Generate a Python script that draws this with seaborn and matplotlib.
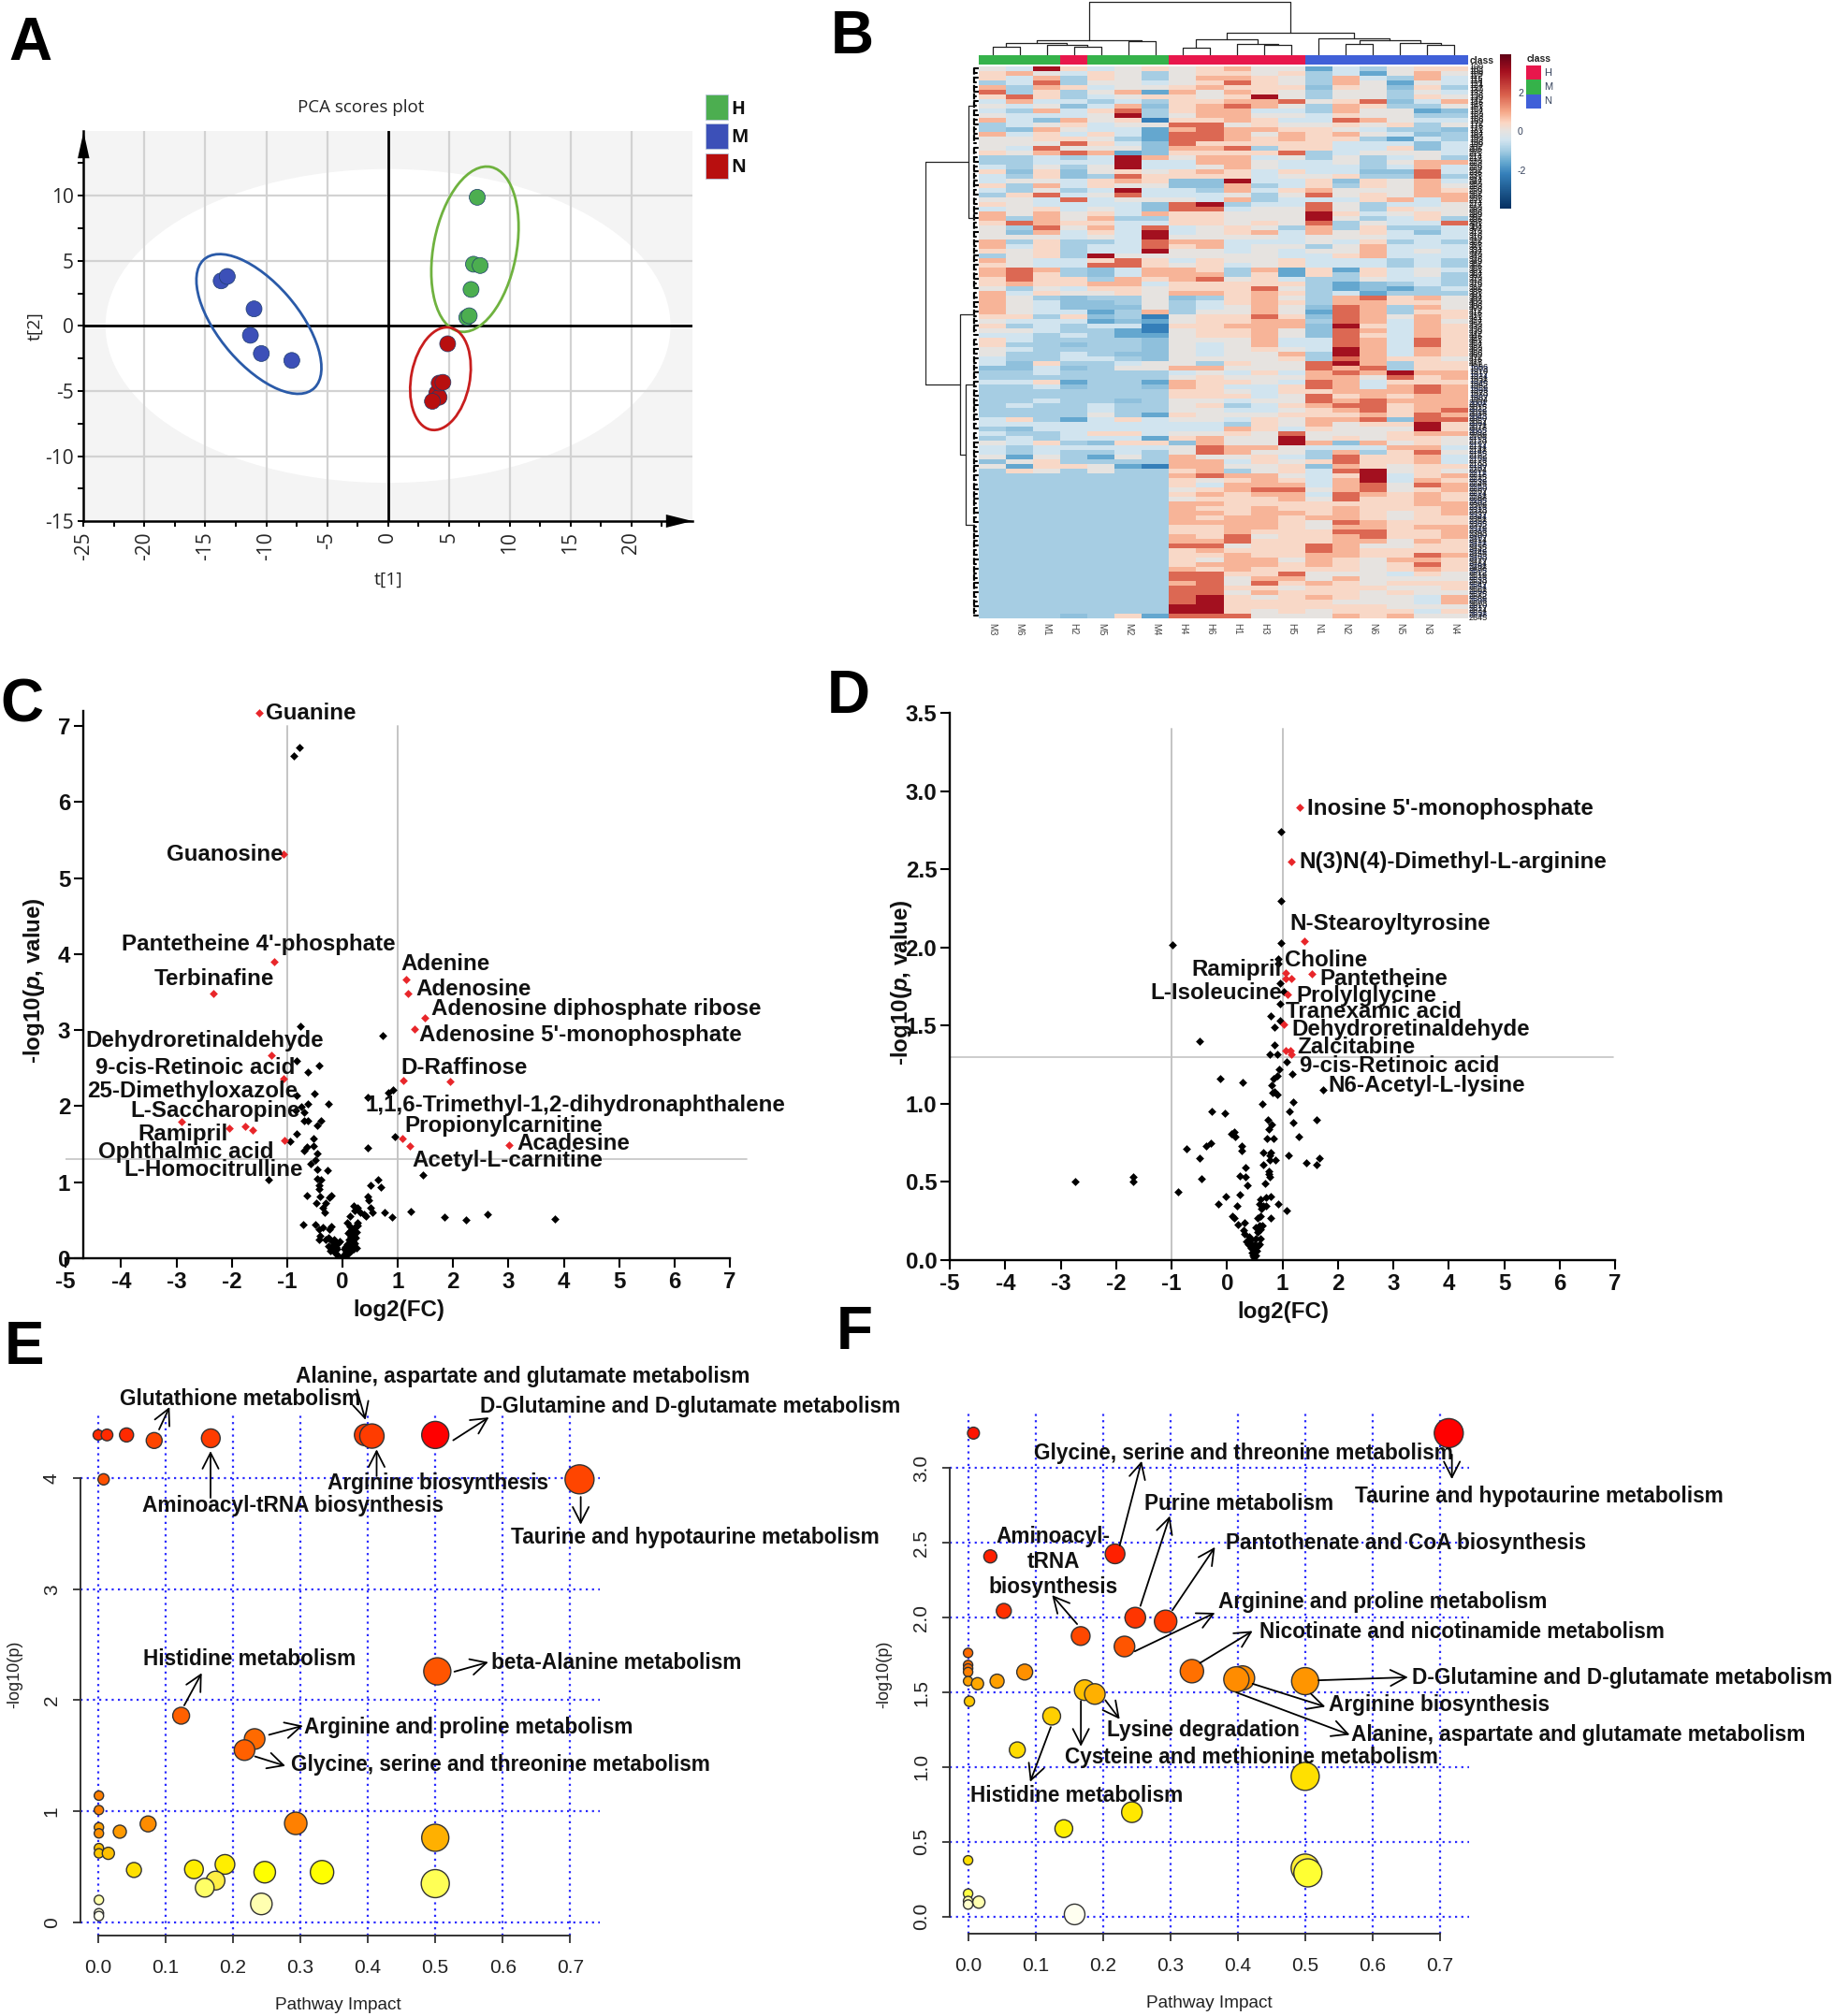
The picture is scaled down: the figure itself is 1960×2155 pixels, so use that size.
import numpy as np
import pandas as pd
import matplotlib
matplotlib.use("Agg")
import matplotlib.pyplot as plt
import seaborn as sns
from matplotlib.colors import LinearSegmentedColormap, ListedColormap
from matplotlib.patches import Ellipse, Rectangle

W, H = 1960, 2155

# ---- panel A data ----
pca_h_x = [7.33, 7.02, 7.57, 6.82, 6.47, 6.67]
pca_h_y = [9.88, 4.74, 4.64, 2.80, 0.65, 0.78]
pca_m_x = [-13.7, -13.2, -11.0, -11.3, -10.4, -7.9]
pca_m_y = [3.46, 3.80, 1.31, -0.72, -2.12, -2.65]
pca_n_x = [4.9, 4.0, 4.2, 3.65, 4.2, 4.51]
pca_n_y = [-1.37, -5.17, -5.48, -5.79, -4.39, -4.33]
pca_groups = ["H", "M", "N"]

# ---- panel B data ----
col_names = ["M3", "M6", "M1", "H2", "M5", "M2", "M4", "H4", "H6", "H1", "H3", "H5",
             "N1", "N2", "N6", "N5", "N3", "N4"]
col_class = [1, 1, 1, 0, 1, 1, 1, 0, 0, 0, 0, 0, 2, 2, 2, 2, 2, 2]
heat_levels = [-2.2, -1.6, -1.2, -1.0, -0.45, 0.0, 0.4, 0.85, 1.8, 3.1]
heat_rows = [
    "549645656755143566", "675465356656341575", "647365357765374374", "348355456865375154",
    "737645567666265263", "836357175765355354", "686345665695355365", "474434366778568247",
    "545247267875376335", "437468367744375512", "544459357755465533", "742756066764487544",
    "345645588565565635", "327544178776654332", "746464188757675423", "556653188767663143",
    "555864286666644424", "548555277836644624", "657871266668345554", "334349757745353453",
    "334449447754453577", "435359445754443474", "626256567646442284", "436238666645563383",
    "455467622944626574", "637465522734636575", "435349443746755576", "368458444535856577",
    "554845554734446747", "654444289344853445", "456454288455853655", "757564766555964565",
    "737573366555953463", "687664466565835448", "538574845653736334", "527464945674756424",
    "555454955554555444", "736334877444546343", "746344867455357444", "656344955454557454",
    "356395555554467444", "754468646556444343", "654488656456444343", "787324776371616454",
    "786324777361636453", "686637678564335443", "676677466666312343", "535466566685312134",
    "746556577676341333", "753233523675378675", "754223534676377665", "754222534575287375",
    "754413735575187366", "663623056686287576", "544412156677387475", "634344066777296476",
    "554331056675287476", "443431156675286476", "643333255574487486", "633233254574487486",
    "543333254565497476", "533432254557397476", "433443255556387665", "426334553655897366",
    "224235577555878366", "334333345464787977", "333333356555775867", "446133176654874666",
    "334233276446874787", "333333366546677787", "333333366645867677", "334332355455878777",
    "343343356346788677", "333343355445678678", "333353165556667687", "463146455465778288",
    "444444444365756696", "324444444764655596", "433466455658555677", "343444167559565665",
    "546326627559727565", "434444458775444774", "434334358755373685", "515315375564386674",
    "256333377465686674", "516651077556276566", "365353367356489565", "333333378775469467",
    "333333365676479476", "333333364777478587", "333333356788578567", "333333367677487676",
    "333333356667586676", "333333377666666677", "333333376676676667", "333333377677676567",
    "333333376776776566", "333333377776587666", "333333366776577677", "333333366766688667",
    "333333376856678667", "333333377866677576", "333333388566875566", "333333367666876666",
    "333333366766776687", "333333365775765776", "333333367776765686", "333333376766665676",
    "333333388668555465", "333333388577575555", "333333378586765666", "333333388665666556",
    "333333388576665655", "333333389656765547", "333333389666655547", "333333399666666555",
    "333333399656566646", "333236188855576755",
]
# column tree: (height, left, right), a leaf is the column index
col_tree = (57, (16, (13, (8.7, 0, 1), (11, 2, (8.7, 3, 4))), (14.3, 5, 6)),
            (24, (17, (7.8, 7, 8), (12, 9, (10.5, 10, 11))),
             (17.5, 12, (15.6, (11.3, 13, 14), (12.5, 15, (10.4, 16, 17))))))
row_blocks = [(0, 17), (17, 48), (48, 58), (58, 78), (78, 118)]
row_tree = (57.4, (11.5, 0, 1), (20.2, 2, (13.8, 3, 4)))
row_tips = [1.5, 3.5, 2.2, 4.5, 2.8, 1.2, 3.8, 2.0, 4.2, 3.0]

# ---- panel C data ----
c_red_x = [-1.51, -1.06, -1.23, -2.33, 1.15, 1.19, 1.48, 1.31, -1.29, -1.07, 1.10, 1.95,
           -2.90, -2.05, -1.76, -1.63, -1.05, 1.09, 1.22, 3.01]
c_red_y = [7.17, 5.32, 3.90, 3.48, 3.67, 3.48, 3.16, 3.01, 2.67, 2.36, 2.34, 2.32,
           1.80, 1.71, 1.74, 1.68, 1.55, 1.58, 1.48, 1.49]
c_blk_x = [-0.77, -0.88, -0.76, 0.72, -0.82, -0.43, -0.63, -0.82, -0.50, -0.26, -0.63, -0.75,
           -0.85, -0.70, -0.70, -0.62, -0.39, -0.45, -0.83, -0.53, -0.94, -0.52, -0.64, -0.70,
           -0.45, -0.49, -0.57, -0.45, -0.27, -1.34, -0.45, -0.38, -0.43, -0.43, -0.65, -0.21,
           -0.24, -0.41, -0.47, -0.30, -0.35, -0.32, -0.71, -0.49, -0.35, -0.43, -0.20, -0.24,
           -0.41, -0.43, -0.26, 0.83, 0.92, 0.45, 0.95, 0.45, 1.45, 0.65, 0.50, 0.70,
           0.45, 0.48, 0.20, 0.27, 0.50, 0.22, 0.54, 0.32, 0.76, 1.24, 0.89, 0.39,
           0.43, 1.85, 2.23, 2.62, 3.84, 0.13, 0.08, 0.27, 0.22, 0.13, 0.02, 0.03,
           0.05, 0.06, 0.08, 0.10, 0.03, 0.12, 0.15, 0.05, 0.08, 0.10, 0.14, 0.20,
           0.25, 0.22, 0.18, 0.12, 0.16, 0.20, 0.24, 0.10, 0.15, 0.20, 0.25, 0.22,
           0.27, 0.13, -0.10, -0.12, -0.15, -0.08, -0.05, -0.18, -0.15, -0.20, -0.25, -0.30,
           -0.22, -0.18, -0.13, -0.10, 0.00, 0.00, 0.04]
c_blk_y = [6.72, 6.61, 3.05, 2.93, 2.59, 2.54, 2.45, 2.14, 2.17, 2.03, 2.03, 1.99,
           1.94, 1.92, 1.81, 1.81, 1.81, 1.75, 1.63, 1.58, 1.54, 1.48, 1.46, 1.41,
           1.38, 1.29, 1.24, 1.17, 1.16, 1.03, 1.05, 1.03, 0.96, 0.91, 0.83, 0.83,
           0.80, 0.81, 0.72, 0.72, 0.67, 0.60, 0.44, 0.44, 0.40, 0.38, 0.42, 0.38,
           0.30, 0.25, 0.27, 2.18, 2.21, 2.11, 1.60, 1.45, 1.09, 1.03, 0.96, 0.94,
           0.81, 0.76, 0.69, 0.67, 0.66, 0.63, 0.60, 0.60, 0.60, 0.62, 0.54, 0.58,
           0.55, 0.54, 0.50, 0.58, 0.52, 0.55, 0.47, 0.47, 0.41, 0.36, 0.02, 0.05,
           0.03, 0.08, 0.06, 0.10, 0.12, 0.07, 0.10, 0.15, 0.18, 0.14, 0.16, 0.12,
           0.14, 0.20, 0.22, 0.25, 0.28, 0.30, 0.27, 0.33, 0.35, 0.36, 0.34, 0.41,
           0.43, 0.42, 0.12, 0.15, 0.18, 0.20, 0.22, 0.22, 0.25, 0.14, 0.16, 0.25,
           0.10, 0.13, 0.07, 0.05, 0.00, 0.03, 0.00]

# ---- panel D data ----
d_red_x = [1.31, 1.16, 1.39, 1.06, 1.53, 1.05, 1.16, 1.09, 1.03, 1.06, 1.14, 1.16]
d_red_y = [2.90, 2.55, 2.04, 1.84, 1.83, 1.80, 1.80, 1.70, 1.51, 1.34, 1.34, 1.32]
d_blk_x = [0.98, 0.97, 0.98, -0.98, 0.92, 0.92, 0.96, 1.03, 0.96, 0.78, 0.95, 0.86,
           -0.49, 0.86, 0.77, 0.90, 1.07, 0.94, 0.90, 1.18, -0.13, 0.28, 0.84, 0.81,
           0.86, 0.82, 0.90, 1.73, 1.20, 0.63, -0.27, -0.04, 1.13, 1.62, 0.74, 0.80,
           0.76, 1.19, 0.13, 0.08, 0.15, 1.29, 0.72, 0.83, -0.29, -0.37, 0.26, 0.27,
           -0.73, 0.65, 0.79, 0.77, 1.11, -0.50, 0.77, 0.88, 1.67, 1.43, 1.62, 0.65,
           0.33, 0.75, 0.76, 0.23, 0.34, -1.70, -1.69, -2.74, -0.47, 0.77, 0.68, 0.37,
           -0.88, 0.23, -0.03, 0.79, 0.70, 0.92, -0.16, 0.18, 1.08, 0.10, 0.13, 0.79,
           0.32, 0.20, 0.50, 0.49, 0.47, 0.52, 0.45, 0.50, 0.54, 0.43, 0.48, 0.55,
           0.38, 0.42, 0.50, 0.58, 0.35, 0.44, 0.52, 0.60, 0.32, 0.40, 0.30, 0.55,
           0.60, 0.52, 0.58, 0.63, 0.55, 0.60, 0.62, 0.58, 0.65, 0.60, 0.70]
d_blk_y = [2.74, 2.30, 2.03, 2.02, 1.93, 1.90, 1.77, 1.72, 1.64, 1.56, 1.53, 1.49,
           1.40, 1.38, 1.32, 1.32, 1.27, 1.22, 1.18, 1.19, 1.16, 1.14, 1.16, 1.12,
           1.08, 1.07, 1.06, 1.09, 1.01, 1.00, 0.95, 0.94, 0.95, 0.90, 0.90, 0.87,
           0.84, 0.88, 0.82, 0.81, 0.79, 0.79, 0.78, 0.78, 0.75, 0.73, 0.73, 0.70,
           0.71, 0.69, 0.69, 0.67, 0.67, 0.65, 0.64, 0.64, 0.65, 0.62, 0.61, 0.61,
           0.59, 0.57, 0.55, 0.54, 0.53, 0.53, 0.50, 0.50, 0.52, 0.53, 0.49, 0.48,
           0.44, 0.42, 0.41, 0.41, 0.40, 0.36, 0.36, 0.35, 0.32, 0.28, 0.27, 0.27,
           0.24, 0.23, 0.00, 0.02, 0.03, 0.03, 0.05, 0.06, 0.06, 0.08, 0.09, 0.09,
           0.10, 0.11, 0.10, 0.10, 0.12, 0.13, 0.14, 0.14, 0.17, 0.15, 0.19, 0.18,
           0.20, 0.21, 0.22, 0.22, 0.27, 0.28, 0.33, 0.36, 0.35, 0.39, 0.35]

# ---- panel E data ----
e_x = [0.000, 0.013, 0.042, 0.083, 0.167, 0.396, 0.406, 0.500, 0.008, 0.714, 0.503, 0.123, 0.232,
       0.217, 0.001, 0.001, 0.074, 0.293, 0.032, 0.001, 0.001, 0.500, 0.001, 0.001, 0.015, 0.053,
       0.142, 0.188, 0.174, 0.158, 0.247, 0.332, 0.500, 0.242, 0.001, 0.001, 0.001]
e_y = [4.39, 4.39, 4.39, 4.34, 4.36, 4.39, 4.38, 4.39, 3.99, 3.99, 2.26, 1.86, 1.65,
       1.55, 1.14, 1.01, 0.885, 0.89, 0.815, 0.854, 0.80, 0.76, 0.667, 0.62, 0.62, 0.47,
       0.476, 0.52, 0.374, 0.31, 0.45, 0.45, 0.347, 0.164, 0.20, 0.08, 0.055]
e_d = [11, 12.5, 15, 17, 20, 23, 26, 29, 12, 31, 29, 18, 22,
       22, 10, 10, 17, 24, 14, 10, 10, 29, 10, 10, 13, 16,
       20, 21, 20, 20, 23, 25, 30, 23, 10, 10, 10]
e_c = ["#ff2a00", "#ff2a00", "#ff2a00", "#ff4500", "#ff3c00", "#ff3c00", "#ff3c00", "#ff0000", "#ff5000",
       "#ff4500", "#ff5500", "#ff6000", "#ff6a00", "#ff6000", "#ff7f00", "#ff8000", "#ff8c00", "#ff8000",
       "#ff9a00", "#ffa000", "#ff9000", "#ffb000", "#ffc000", "#ffc800", "#ffc000", "#ffe000", "#ffee00",
       "#ffee00", "#ffee44", "#ffff66", "#ffff00", "#ffff00", "#ffff55", "#ffffb0", "#ffffaa", "#ffffdd",
       "#fffff0"]

# ---- panel F data ----
f_x = [0.008, 0.713, 0.218, 0.033, 0.053, 0.248, 0.293, 0.167, 0.232, 0.332, 0.407, 0.398, 0.500,
       0.000, 0.000, 0.000, 0.000, 0.000, 0.014, 0.043, 0.084, 0.173, 0.188, 0.002, 0.124, 0.073,
       0.500, 0.243, 0.142, 0.000, 0.000, 0.000, 0.000, 0.016, 0.500, 0.504, 0.158]
f_y = [3.235, 3.235, 2.427, 2.41, 2.045, 2.00, 1.975, 1.877, 1.807, 1.642, 1.596, 1.587, 1.575,
       1.764, 1.683, 1.66, 1.636, 1.575, 1.558, 1.575, 1.636, 1.515, 1.489, 1.44, 1.341, 1.115,
       0.938, 0.698, 0.588, 0.376, 0.153, 0.104, 0.08, 0.096, 0.324, 0.292, 0.014]
f_d = [12.7, 31, 21, 14, 16, 22, 24, 20, 22, 25, 26, 27, 29,
       10, 10, 10, 10, 10, 13, 15, 17, 22, 22, 11, 19, 17,
       30, 22, 19, 10, 10, 10, 10, 13, 30, 30, 22]
f_c = ["#ff1500", "#ff0000", "#ff2000", "#ff2000", "#ff3000", "#ff3500", "#ff3a00", "#ff4800", "#ff5500",
       "#ff7000", "#ff8c00", "#ff8c00", "#ff9500", "#ff6a00", "#ff7000", "#ff7000", "#ff8000", "#ffa000",
       "#ffa800", "#ffa000", "#ff9000", "#ffc000", "#ffb000", "#ffc800", "#ffd000", "#ffdc00", "#ffe000",
       "#ffe800", "#fff000", "#ffe000", "#ffff44", "#ffffaa", "#ffffcc", "#ffffb0", "#ffee33", "#ffff33",
       "#fffff0"]

# ---- labels, given as left edge / centre line in picture pixels ----
c_labels = [("Guanine", 284, 761), ("Guanosine", 178, 912), ("Pantetheine 4'-phosphate", 129.5, 1008),
            ("Terbinafine", 164.6, 1044.6), ("Adenine", 428, 1029), ("Adenosine", 444, 1056),
            ("Adenosine diphosphate ribose", 461, 1077), ("Adenosine 5'-monophosphate", 448, 1105),
            ("Dehydroretinaldehyde", 91.6, 1111), ("9-cis-Retinoic acid", 102, 1140),
            ("25-Dimethyloxazole", 93, 1164.6), ("L-Saccharopine", 139, 1186), ("Ramipril", 147, 1211),
            ("Ophthalmic acid", 105, 1230), ("L-Homocitrulline", 132, 1249), ("D-Raffinose", 428, 1140),
            ("1,1,6-Trimethyl-1,2-dihydronaphthalene", 390.6, 1180), ("Propionylcarnitine", 432, 1202),
            ("Acadesine", 552, 1221), ("Acetyl-L-carnitine", 440, 1239)]
d_labels = [("Inosine 5'-monophosphate", 1397, 863), ("N(3)N(4)-Dimethyl-L-arginine", 1388, 920),
            ("N-Stearoyltyrosine", 1378, 986), ("Choline", 1373, 1025), ("Ramipril", 1273, 1035),
            ("Pantetheine", 1410, 1045), ("L-Isoleucine", 1229, 1060), ("Prolylglycine", 1385, 1063),
            ("Tranexamic acid", 1374, 1080), ("Dehydroretinaldehyde", 1380.6, 1098.6),
            ("Zalcitabine", 1386, 1118), ("9-cis-Retinoic acid", 1389, 1138), ("N6-Acetyl-L-lysine", 1419, 1159)]


def e_px(x, y):
    return x / 1.6, 1430 + y / 2.163


def f_px(x, y):
    return 910 + x / 1.493, 1430 + y / 2.163


e_labels = [("Alanine, aspartate and glutamate metabolism", 505, 86), ("Glutathione metabolism", 205, 138),
            ("D-Glutamine and D-glutamate metabolism", 820, 155), ("Arginine biosynthesis", 560, 334),
            ("Aminoacyl-tRNA biosynthesis", 243, 384), ("Taurine and hypotaurine metabolism", 873, 459),
            ("Histidine metabolism", 244, 740), ("beta-Alanine metabolism", 840, 748),
            ("Arginine and proline metabolism", 520, 898), ("Glycine, serine and threonine metabolism", 497, 985)]
e_arrows = [((272, 212), (290, 160)), ((610, 120), (625, 190)), ((775, 237), (836, 184)),
            ((360, 370), (360, 262)), ((644, 320), (644, 258)), ((993, 368), (993, 432)),
            ((315, 850), (345, 775)), ((777, 772), (835, 750)), ((460, 918), (518, 897)),
            ((436, 968), (488, 990))]
f_labels = [("Glycine, serine and threonine metabolism", 291, 263), ("Taurine and hypotaurine metabolism", 803, 364),
            ("Purine metabolism", 468, 380), ("Pantothenate and CoA biosynthesis", 597, 471),
            ("Arginine and proline metabolism", 585, 607), ("Nicotinate and nicotinamide metabolism", 651, 677),
            ("D-Glutamine and D-glutamate metabolism", 894, 783), ("Arginine biosynthesis", 762, 845),
            ("Lysine degradation", 408, 905), ("Alanine, aspartate and glutamate metabolism", 797, 914),
            ("Cysteine and methionine metabolism", 340, 967), ("Histidine metabolism", 190, 1055)]
f_arrows = [((428, 480), (463, 285)), ((461, 620), (508, 412)), ((512, 630), (580, 484)),
            ((360, 662), (320, 595)), ((452, 725), (580, 636)), ((556, 752), (640, 678)),
            ((745, 792), (888, 785)), ((640, 800), (756, 853)), ((614, 820), (795, 918)),
            ((405, 838), (428, 882)), ((366, 840), (366, 945)), ((318, 900), (285, 1027)),
            ((958, 270), (958, 327))]

sns.set_theme(style="white")
plt.rcParams["font.family"] = ["Liberation Sans", "DejaVu Sans"]
plt.rcParams["axes.unicode_minus"] = False
plt.rcParams["mathtext.fontset"] = "custom"
plt.rcParams["mathtext.rm"] = "Liberation Sans:bold"
plt.rcParams["mathtext.bfit"] = "Liberation Sans:italic:bold"
plt.rcParams["mathtext.it"] = "Liberation Sans:italic:bold"

fig = plt.figure(figsize=(W / 100, H / 100), dpi=100, facecolor="white")


def axes_px(x0, y0, x1, y1, **kw):
    return fig.add_axes([x0 / W, 1 - y1 / H, (x1 - x0) / W, (y1 - y0) / H], **kw)


# overlay in picture pixels for labels and arrows
over = axes_px(0, 0, W, H, zorder=10)
over.set_xlim(0, W)
over.set_ylim(H, 0)
over.axis("off")


def put(x, y, s, **kw):
    kw.setdefault("va", "center")
    kw.setdefault("ha", "left")
    over.text(x, y, s, **kw)


for letter, lx, ly in [("A", 9, 47), ("B", 888, 40), ("C", 0, 754), ("D", 884, 745), ("E", 5, 1441), ("F", 894, 1425)]:
    put(lx, ly, letter, fontsize=46, fontweight="bold", color="black")

# ---- A: PCA scores ----
ax = axes_px(89.3, 139.6, 740, 557.2)
ax.set_xlim(-25, 25)
ax.set_ylim(-15, 15)
ax.set_facecolor("#f4f4f4")
ax.add_patch(Ellipse((0, 0), 46.4, 24.1, fc="white", ec="none", zorder=0))
for v in [-20, -15, -10, -5, 5, 10, 15, 20]:
    ax.axvline(v, color="#d2d2d2", lw=1.6, zorder=1)
for v in [-10, -5, 5, 10]:
    ax.axhline(v, color="#d2d2d2", lw=1.6, zorder=1)
ax.axvline(0, color="black", lw=2, zorder=2)
ax.axhline(0, color="black", lw=2, zorder=2)
pca = pd.DataFrame({
    "x": pca_h_x + pca_m_x + pca_n_x,
    "y": pca_h_y + pca_m_y + pca_n_y,
    "group": ["H"] * 6 + ["M"] * 6 + ["N"] * 6,
})
pca_fill = {"H": "#4cae50", "M": "#3c50b8", "N": "#b80f0f"}
sns.scatterplot(data=pca, x="x", y="y", hue="group", palette=pca_fill, s=150,
                edgecolor="#1c3c6c", linewidth=0.5, legend=False, ax=ax, zorder=4)
ellipses = [((-10.6, 0.15), 13.4, 6.4, -47, "#2a5aa8"),
            ((7.14, 5.89), 12.9, 6.8, 78, "#6fb23f"),
            ((4.31, -4.05), 8.0, 4.8, 78, "#c81e1e")]
for centre, w_, h_, ang, col in ellipses:
    ax.add_patch(Ellipse(centre, w_, h_, angle=ang, fill=False, ec=col, lw=2, zorder=3))
sns.despine(ax=ax, top=True, right=True)
for s in ["left", "bottom"]:
    ax.spines[s].set_linewidth(1.8)
    ax.spines[s].set_color("black")
ax.set_xticks(np.arange(-25, 25, 5))
ax.set_xticks(np.arange(-22.5, 25, 5), minor=True)
ax.set_yticks(np.arange(-15, 15, 5))
ax.set_yticks(np.arange(-12.5, 15, 5), minor=True)
ax.tick_params(axis="both", which="both", bottom=True, left=True, color="black", width=1.4, length=4)
ax.tick_params(axis="x", labelrotation=90, pad=4)
for t in ax.get_xticklabels() + ax.get_yticklabels():
    t.set_fontfamily(["Open Sans", "DejaVu Sans"])
    t.set_fontsize(15)
ax.set_xlabel("")
ax.set_ylabel("")
put(386, 115, "PCA scores plot", ha="center", fontsize=13.5, family=["Open Sans", "DejaVu Sans"], color="#222222")
put(415, 620, "t[1]", ha="center", fontsize=14, family=["Open Sans", "DejaVu Sans"], color="#222222")
put(38, 349, "t[2]", ha="center", rotation=90, fontsize=14, family=["Open Sans", "DejaVu Sans"], color="#222222")
head = dict(mutation_scale=14, color="black", shrinkA=0, shrinkB=0, lw=0)
over.annotate("", xy=(89.3, 141), xytext=(89.3, 172), arrowprops=dict(arrowstyle="-|>,head_length=1.45,head_width=0.32", **head))
over.annotate("", xy=(740, 557), xytext=(711, 557), arrowprops=dict(arrowstyle="-|>,head_length=1.45,head_width=0.36", **head))
for grp, y0 in zip(pca_groups, [101, 132, 164]):
    over.add_patch(Rectangle((754, y0), 24, 26.5, fc=pca_fill[grp], ec="#b8c4d8", lw=0.6))
    put(781, y0 + 15.5, grp, fontsize=14, fontweight="bold", family=["Open Sans", "DejaVu Sans"], color="#111111")

# ---- B: heatmap ----
heat_map = LinearSegmentedColormap.from_list("heat_rb", [
    (0.0, "#053061"), (0.225, "#3580ba"), (0.30, "#65a8d0"), (0.375, "#a5cde3"), (0.444, "#d2e4ef"),
    (0.5, "#e5e3e1"), (0.556, "#fbd6c3"), (0.625, "#f6a98a"), (0.7375, "#d9604c"), (0.8875, "#a5101f"),
    (1.0, "#5f0016")])
levels = np.array(heat_levels)
heat = np.array([[levels[int(c)] for c in row] for row in heat_rows])
n_rows, n_cols = heat.shape
hx = axes_px(1046, 70.7, 1569, 661)
cb = axes_px(1603, 57.7, 1615, 223)
sns.heatmap(pd.DataFrame(heat, columns=col_names), cmap=heat_map, vmin=-4, vmax=4, ax=hx, cbar_ax=cb,
            xticklabels=False, yticklabels=False, cbar_kws={"ticks": [-2, 0, 2]})
hx.set_xlabel("")
hx.set_ylabel("")
cb.tick_params(length=0, labelsize=7.5, labelcolor="#33405a", pad=5)
class_colors = ["#e8174c", "#35b24a", "#4060d8"]
bar = axes_px(1046, 58.5, 1569, 68.5)
sns.heatmap(np.array([col_class]), cmap=ListedColormap(class_colors), vmin=0, vmax=2, cbar=False, ax=bar,
            xticklabels=False, yticklabels=False)
put(1570.6, 65, "class", fontsize=7.5, fontweight="bold", color="#222222")
put(1632, 62.5, "class", fontsize=7.5, fontweight="bold", color="#222222")
for i, (grp, col) in enumerate(zip(pca_groups, class_colors)):
    over.add_patch(Rectangle((1631, 70 + 15.4 * i), 16, 15.4, fc=col, ec="none"))
    put(1650, 78 + 15 * i, grp, fontsize=8, color="#33405a")
for i, name in enumerate(col_names):
    put(1046 + (i + 0.5) * 523 / n_cols, 672.5, name, ha="center", rotation=-90, fontsize=7, color="#444444")
# unreadable row names squeezed together at the right of the map
row_ids = [str(100 + r * 3) if r < 128 else str(1000 + r * 7) for r in range(n_rows * 2)]
for r, rid in enumerate(row_ids):
    put(1570, 70.7 + (r + 0.5) * 591 / (n_rows * 2), rid, fontsize=6.5,
        color="#0a1a50" if r >= 128 and r % 3 == 0 else "#111111")

dend_top = axes_px(1046, 1.3, 1569, 58.5)
dend_top.set_xlim(0, n_cols)
dend_top.set_ylim(0, 57.2)
dend_top.axis("off")


def draw_tree(node, centres, draw):
    if not isinstance(node, tuple):
        return centres[node], 0
    h, left, right = node
    p0, h0 = draw_tree(left, centres, draw)
    p1, h1 = draw_tree(right, centres, draw)
    draw([p0, p0, p1, p1], [h0, h, h, h1])
    return (p0 + p1) / 2, h


draw_tree(col_tree, [i + 0.5 for i in range(n_cols)],
          lambda p, q: dend_top.plot(p, q, color="#222222", lw=0.9))

dend_left = axes_px(988.5, 70.7, 1046, 661)
dend_left.set_xlim(57.5, 0)
dend_left.set_ylim(n_rows, 0)
dend_left.axis("off")
block_mid = []
for a, b in row_blocks:
    dend_left.plot([5.0, 5.0], [a + 0.5, b - 0.5], color="black", lw=1.6, linestyle=(0, (3, 1)))
    for r in range(a, b):
        dend_left.plot([row_tips[r % len(row_tips)] - 1.2, 5.0], [r + 0.5, r + 0.5], color="black", lw=1.5)
    block_mid.append((a + b) / 2)
draw_tree(row_tree, block_mid, lambda p, q: dend_left.plot([max(v, 5.0) for v in q], p, color="#222222", lw=0.9))


# ---- C and D: volcano plots ----
def volcano(ax, red_x, red_y, blk_x, blk_y, xline_top, hline_right, yticks, yfmt):
    for v in [-1, 1]:
        ax.plot([v, v], [0, xline_top], color="#c4c4c4", lw=1.4, zorder=1)
    ax.plot([ax.get_xlim()[0], hline_right], [1.3, 1.3], color="#c4c4c4", lw=1.2, zorder=1)
    sns.scatterplot(x=blk_x, y=blk_y, color="black", marker="D", s=20, linewidth=0, ax=ax, zorder=3)
    sns.scatterplot(x=red_x, y=red_y, color="#e8262a", marker="D", s=20, linewidth=0, ax=ax, zorder=4)
    sns.despine(ax=ax, top=True, right=True)
    for s in ["left", "bottom"]:
        ax.spines[s].set_linewidth(1.7)
        ax.spines[s].set_color("black")
    ax.tick_params(axis="both", bottom=True, left=True, color="black", width=1.5, length=7, pad=3)
    ax.set_xticks(range(-5, 8))
    ax.set_xticklabels([str(v) for v in range(-5, 8)], fontweight="bold", fontsize=17.4, color="#111111")
    ax.set_yticks(yticks)
    ax.set_yticklabels([yfmt % v for v in yticks], fontweight="bold", fontsize=17.4, color="#111111")


vc = axes_px(70.2, 755.6, 809.6, 1345)
vc.set_xlim(-5, 7.5)
vc.set_ylim(0, 7.25)
# moving a spine resets its ticks, so this comes before the tick styling
vc.spines["left"].set_position(("data", -4.68))
volcano(vc, c_red_x, c_red_y, c_blk_x, c_blk_y, 7.0, 7.3, list(range(0, 8)), "%d")
vc.spines["left"].set_bounds(0, 7.2)
vc.spines["bottom"].set_bounds(-5, 7)
for s, lx, ly in c_labels:
    put(lx, ly + 1.5, s, fontsize=17.4, fontweight="bold", color="#111111")
put(426, 1401, "log2(FC)", ha="center", fontsize=17.4, fontweight="bold", color="#111111")
put(36, 1048, r"-log10($\bfit{p}$, value)", ha="center", rotation=90, fontsize=17.4, fontweight="bold", color="#111111")

vd = axes_px(1015.2, 762.4, 1755, 1347)
vd.set_xlim(-5, 7.49)
vd.set_ylim(0, 3.5)
volcano(vd, d_red_x, d_red_y, d_blk_x, d_blk_y, 3.4, 6.97, [0, 0.5, 1, 1.5, 2, 2.5, 3, 3.5], "%.1f")
vd.spines["bottom"].set_bounds(-5, 7)
for s, lx, ly in d_labels:
    put(lx, ly + 1.5, s, fontsize=17.4, fontweight="bold", color="#111111")
put(1371, 1403, "log2(FC)", ha="center", fontsize=17.4, fontweight="bold", color="#111111")
put(963, 1050, r"-log10($\bfit{p}$, value)", ha="center", rotation=90, fontsize=17.4, fontweight="bold", color="#111111")


# ---- E and F: pathway bubbles ----
def bubbles(ax, xs, ys, ds, cs, yticks, yfmt):
    ax.set_axisbelow(True)
    ax.grid(True, color="#2a2aff", linestyle=(0, (1, 2)), linewidth=1.6)
    df = pd.DataFrame({"x": xs, "y": ys, "colour": cs, "area": [(d * 0.72) ** 2 for d in ds]})
    sns.scatterplot(data=df, x="x", y="y", hue="colour", palette={c: c for c in cs},
                    size="area", sizes={a: a for a in df["area"]}, edgecolor="#333333",
                    linewidth=1.0, legend=False, ax=ax, zorder=3, clip_on=False)
    ax.set_xlabel("")
    ax.set_ylabel("")
    ax.set_xticks(np.arange(0, 0.71, 0.1))
    ax.set_xticklabels(["%.1f" % v for v in np.arange(0, 0.71, 0.1)])
    ax.set_yticks(yticks)
    ax.set_yticklabels([yfmt % v for v in yticks], rotation=90, va="center")
    sns.despine(ax=ax, top=True, right=True)
    for s in ["left", "bottom"]:
        ax.spines[s].set_linewidth(1.4)
        ax.spines[s].set_color("#333333")
    ax.spines["left"].set_bounds(yticks[0], yticks[-1])
    ax.spines["bottom"].set_bounds(0, 0.7)
    ax.tick_params(axis="both", bottom=True, left=True, color="#333333", width=1.3, length=6,
                   labelsize=15, labelcolor="#222222")
    ax.tick_params(axis="x", pad=12)
    ax.tick_params(axis="y", pad=9)


ve = axes_px(85.6, 1513, 640.6, 2069)
ve.set_xlim(-0.0269, 0.7435)
ve.set_ylim(-0.121, 4.566)
bubbles(ve, e_x, e_y, e_d, e_c, [0, 1, 2, 3, 4], "%d")
for s, zx, zy in e_labels:
    lx, ly = e_px(zx, zy)
    put(lx, ly + 1.5, s, fontsize=16.3, fontweight="bold", color="#111111")
for a, b in e_arrows:
    over.annotate("", xy=e_px(*b), xytext=e_px(*a),
                  arrowprops=dict(arrowstyle="->,head_length=0.55,head_width=0.28", mutation_scale=22, color="black", lw=1.3, shrinkA=0, shrinkB=0))
put(361, 2143, "Pathway Impact", ha="center", fontsize=13.7, color="#222222")
put(16, 1790, "-log10(p)", ha="center", rotation=90, fontsize=13, color="#222222")

vf = axes_px(1015, 1511, 1569.7, 2067)
vf.set_xlim(-0.0272, 0.7427)
vf.set_ylim(-0.115, 3.366)
bubbles(vf, f_x, f_y, f_d, f_c, [0, 0.5, 1, 1.5, 2, 2.5, 3], "%.1f")
for s, zx, zy in f_labels:
    lx, ly = f_px(zx, zy)
    put(lx, ly + 1.5, s, fontsize=16.3, fontweight="bold", color="#111111")
for s, zy in [("Aminoacyl-", 456), ("tRNA", 515), ("biosynthesis", 574)]:
    lx, ly = f_px(322, zy)
    put(lx, ly + 1.5, s, ha="center", fontsize=16.3, fontweight="bold", color="#111111")
for a, b in f_arrows:
    over.annotate("", xy=f_px(*b), xytext=f_px(*a),
                  arrowprops=dict(arrowstyle="->,head_length=0.55,head_width=0.28", mutation_scale=22, color="black", lw=1.3, shrinkA=0, shrinkB=0))
put(1292, 2142, "Pathway Impact", ha="center", fontsize=13.7, color="#222222")
put(945, 1790, "-log10(p)", ha="center", rotation=90, fontsize=13, color="#222222")

fig.savefig("out.png", dpi=100, facecolor="white")
